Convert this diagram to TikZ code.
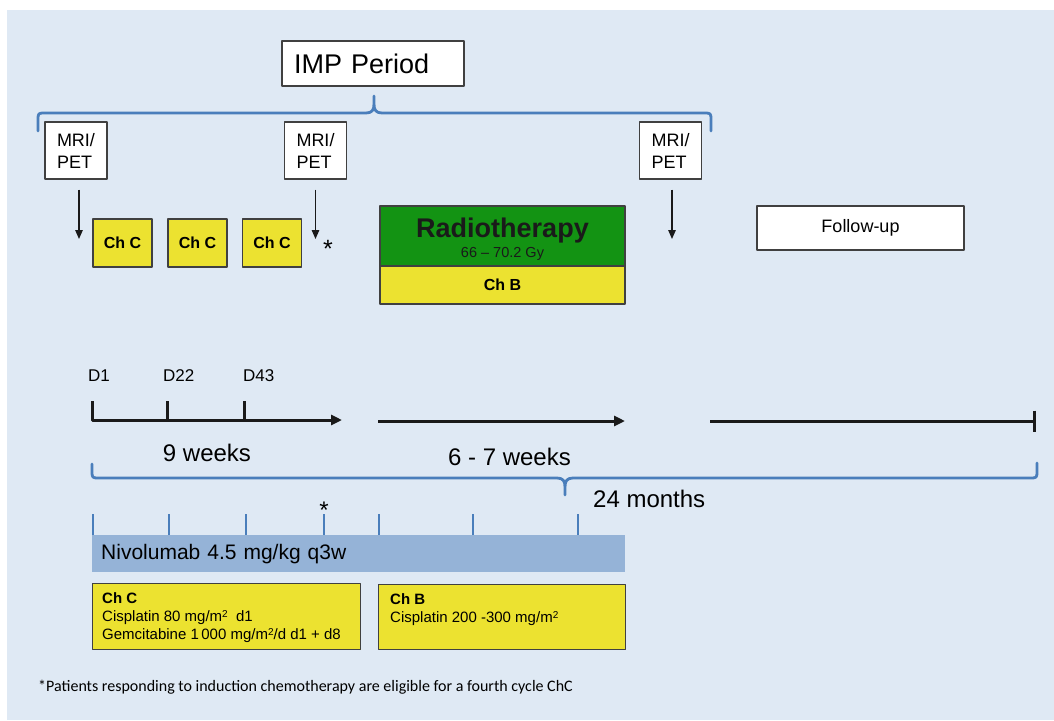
\documentclass[tikz,border=0pt]{standalone}
\usepackage{fontspec}
\setmainfont{Liberation Sans}
\newfontfamily\notefont{Carlito}
\usetikzlibrary{arrows.meta}
\definecolor{panelblue}{RGB}{223,233,244}
\definecolor{braceblue}{RGB}{74,126,187}
\definecolor{chyellow}{RGB}{236,226,48}
\definecolor{rtgreen}{RGB}{19,147,19}
\definecolor{nivoblue}{RGB}{149,179,215}
\definecolor{boxgray}{RGB}{64,64,64}
\definecolor{inkgray}{RGB}{26,26,26}

\begin{document}
\begin{tikzpicture}[x=1pt,y=-1pt,line join=round,
  >={Triangle[length=9pt,width=7.5pt]},
  whitebox/.style={draw=boxgray,fill=white,line width=1.1pt,inner sep=0pt},
  chbox/.style={draw=boxgray,fill=chyellow,line width=1.1pt,inner sep=0pt},
  bracepath/.style={draw=braceblue,line width=2.8pt,line cap=round},
  tickline/.style={draw=braceblue,line width=2.8pt},
  timeline/.style={draw=inkgray,line width=3pt},
  mriarrow/.style={->,draw=inkgray,line width=1.3pt,shorten <=10pt}]
\useasboundingbox (0,0) rectangle (1054,720);
\fill[panelblue] (7,10) rectangle (1054,720);
\coordinate (a1) at (79,239);
\coordinate (a2) at (315.5,239);
\coordinate (a3) at (672,239);
\coordinate (t0) at (92,420);
\coordinate (d22) at (167,420);
\coordinate (d43) at (244,420);
\coordinate (ind) at (342,420);
\coordinate (rs) at (378,421);
\coordinate (re) at (625,421);
\coordinate (fs) at (710,421);
\coordinate (fe) at (1036,421);
\node[whitebox,minimum width=182pt,minimum height=45pt,text width=158pt,inner xsep=12pt,align=left,font=\fontsize{27}{32}\selectfont] (imp) at (373,63.5) {IMP Period};
\draw[bracepath] (38,131) -- (38,118) .. controls (38,114) and (39,113) .. (43,113) -- (366,113) .. controls (372,113) and (374,110) .. (374,104) -- (374,96) (374,104) .. controls (374,110) and (376,113) .. (382,113) -- (706,113) .. controls (710,113) and (711,114) .. (711,118) -- (711,131);
\node[whitebox,minimum width=62pt,minimum height=57pt,align=left,font=\fontsize{18}{22}\selectfont] (mri1) at (76,150.5) {MRI/\\PET};
\node[whitebox,minimum width=62pt,minimum height=57pt,align=left,font=\fontsize{18}{22}\selectfont] (mri2) at (315.5,150.5) {MRI/\\PET};
\node[whitebox,minimum width=62pt,minimum height=57pt,align=left,font=\fontsize{18}{22}\selectfont] (mri3) at (670.5,150.5) {MRI/\\PET};
\draw[mriarrow] (mri1.south -| a1) -- (a1);
\draw[mriarrow] (mri2.south -| a2) -- (a2);
\draw[mriarrow] (mri3.south -| a3) -- (a3);
\node[chbox,minimum width=59pt,minimum height=48pt,font=\fontsize{16}{19}\selectfont\bfseries] (chc1) at (122.5,243) {Ch C};
\node[chbox,minimum width=59pt,minimum height=48pt,font=\fontsize{16}{19}\selectfont\bfseries] (chc2) at (197.5,243) {Ch C};
\node[chbox,minimum width=59pt,minimum height=48pt,font=\fontsize{16}{19}\selectfont\bfseries] (chc3) at (272,243) {Ch C};
\node[font=\fontsize{25}{28}\selectfont] (star1) at (328,249) {*};
\node[draw=boxgray,fill=rtgreen,line width=1.1pt,minimum width=245pt,minimum height=60pt,inner sep=0pt] (rt) at (502.5,236) {};
\node[chbox,minimum width=245pt,minimum height=38pt,font=\fontsize{16}{19}\selectfont\bfseries] (chb) at (502.5,285) {Ch B};
\node[anchor=base,text=inkgray,font=\fontsize{27}{32}\selectfont\bfseries] (rtname) at (502.5,237) {Radiotherapy};
\node[anchor=base,text=inkgray,font=\fontsize{14.5}{17}\selectfont] (rtdose) at (502.5,257) {66 – 70.2 Gy};
\node[whitebox,minimum width=207pt,minimum height=44pt,font=\fontsize{18}{22}\selectfont] (fu) at (860.5,228) {Follow-up};
\node[anchor=base west,inner sep=0pt,font=\fontsize{17}{20}\selectfont] (lbl1) at (88,381) {D1};
\node[anchor=base west,inner sep=0pt,font=\fontsize{17}{20}\selectfont] (lbl22) at (163,381) {D22};
\node[anchor=base west,inner sep=0pt,font=\fontsize{17}{20}\selectfont] (lbl43) at (243,381) {D43};
\draw[timeline,-{Triangle[length=11pt,width=10pt]}] ([yshift=19pt]t0) -- (t0) -- (ind);
\draw[timeline] (d22) -- ([yshift=19pt]d22);
\draw[timeline] (d43) -- ([yshift=19pt]d43);
\draw[timeline,-{Triangle[length=11pt,width=10pt]}] (rs) -- (re);
\draw[timeline,-{Bar[width=21pt]}] (fs) -- (fe);
\node[font=\fontsize{24}{28}\selectfont] (wk9) at (207,453) {9 weeks};
\node[font=\fontsize{24}{28}\selectfont] (wk67) at (509.5,457) {6 - 7 weeks};
\draw[bracepath] (92,464) -- (92,473) .. controls (92,477) and (93,478) .. (97,478) -- (557,478) .. controls (563,478) and (565,481) .. (565,487) -- (565,495) (565,487) .. controls (565,481) and (567,478) .. (573,478) -- (1032,478) .. controls (1036,478) and (1037,477) .. (1037,473) -- (1037,463);
\node[anchor=west,inner sep=0pt,font=\fontsize{24}{28}\selectfont] (mo24) at (593,499) {24 months};
\node[fill=nivoblue,minimum width=533pt,minimum height=37pt,text width=515pt,inner xsep=9pt,inner ysep=0pt,align=left,anchor=north west,font=\fontsize{21}{25}\selectfont] (nivo) at (92,535) {Nivolumab 4.5 mg/kg q3w};
\draw[tickline] (93,514) -- (93,535);
\draw[tickline] (169,514) -- (169,535);
\draw[tickline] (246,514) -- (246,535);
\draw[tickline] (324,514) -- (324,535);
\draw[tickline] (379,514) -- (379,535);
\draw[tickline] (473,514) -- (473,535);
\draw[tickline] (578,514) -- (578,535);
\node[font=\fontsize{24}{28}\selectfont] (star2) at (324,510) {*};
\node[chbox,minimum width=268pt,minimum height=66pt,anchor=north west] (chcnote) at (92,583) {};
\node[anchor=north west,inner sep=0pt,align=left,font=\fontsize{15}{18}\selectfont] (chctext) at (102,592.5) {{\bfseries Ch C}\\Cisplatin 80 mg/m{\fontsize{10}{10}\selectfont\raisebox{4pt}{2}}\ \ d1\\Gemcitabine 1\,000 mg/m{\fontsize{10}{10}\selectfont\raisebox{4pt}{2}}/d d1 + d8};
\node[chbox,minimum width=247pt,minimum height=65pt,anchor=north west] (chbnote) at (378,584) {};
\node[anchor=north west,inner sep=0pt,align=left,font=\fontsize{15}{18}\selectfont] (chbtext) at (390,593) {{\bfseries Ch B}\\Cisplatin 200 -300 mg/m{\fontsize{10}{10}\selectfont\raisebox{4pt}{2}}};
\node[anchor=west,inner sep=0pt,font=\notefont\fontsize{16}{19}\selectfont] (note) at (38,687) {*Patients responding to induction chemotherapy are eligible for a fourth cycle ChC};
\end{tikzpicture}
\end{document}
